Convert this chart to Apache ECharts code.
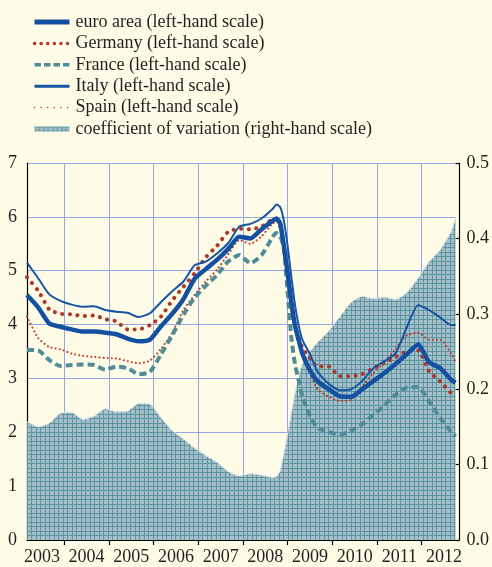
<!DOCTYPE html>
<html>
<head>
<meta charset="utf-8">
<script src="https://cdn.jsdelivr.net/npm/echarts@6/dist/echarts.min.js"></script>
<style>
  html, body { margin: 0; padding: 0; background: #fefce6; }
  #chart { width: 492px; height: 567px; }
</style>
</head>
<body>
<div id="chart"></div>
<script>
// decimal years of the readings
var dates = [
    2003.167, 2003.417, 2003.667, 2003.917,
    2004.167, 2004.417, 2004.667, 2004.917,
    2005.167, 2005.417, 2005.667, 2005.917,
    2006.167, 2006.417, 2006.667, 2006.917,
    2007.167, 2007.417, 2007.667, 2007.917,
    2008.167, 2008.417, 2008.667, 2008.75, 2008.833, 2008.917,
    2009.0, 2009.083, 2009.167, 2009.25, 2009.333, 2009.5, 2009.667, 2009.917,
    2010.167, 2010.417, 2010.667, 2010.917,
    2011.167, 2011.417, 2011.667, 2011.917,
    2012.167, 2012.417, 2012.667, 2012.756
];
var euroArea = [
    4.55, 4.32, 4.02, 3.96,
    3.91, 3.87, 3.87, 3.85,
    3.82, 3.74, 3.69, 3.72,
    3.97, 4.20, 4.47, 4.85,
    5.03, 5.20, 5.40, 5.63,
    5.60, 5.77, 5.93, 5.97, 5.88, 5.45,
    4.95, 4.42, 3.97, 3.70, 3.45, 3.15, 2.95, 2.80,
    2.67, 2.66, 2.80, 2.95,
    3.10, 3.27, 3.45, 3.63,
    3.30, 3.19, 2.97, 2.92
];
var germany = [
    4.88, 4.63, 4.28, 4.20,
    4.19, 4.16, 4.17, 4.10,
    4.06, 3.91, 3.91, 3.99,
    4.15, 4.45, 4.70, 4.95,
    5.25, 5.46, 5.72, 5.78,
    5.77, 5.82, 5.95, 5.95, 5.82, 5.45,
    4.90, 4.35, 3.95, 3.75, 3.57, 3.38, 3.22, 3.22,
    3.04, 3.04, 3.08, 3.19,
    3.29, 3.40, 3.50, 3.52,
    3.13, 2.94, 2.72, 2.66
];
var france = [
    3.53, 3.52, 3.34, 3.23,
    3.25, 3.26, 3.25, 3.16,
    3.22, 3.19, 3.08, 3.12,
    3.45, 3.80, 4.18, 4.50,
    4.72, 4.92, 5.17, 5.29,
    5.14, 5.29, 5.63, 5.70, 5.65, 5.40,
    4.60, 3.75, 3.25, 2.95, 2.66, 2.30, 2.08, 2.01,
    1.95, 2.03, 2.15, 2.32,
    2.50, 2.70, 2.83, 2.84,
    2.57, 2.26, 2.00, 1.92
];
var italy = [
    5.15, 4.86, 4.56, 4.44,
    4.37, 4.33, 4.34, 4.27,
    4.24, 4.22, 4.14, 4.21,
    4.42, 4.62, 4.80, 5.10,
    5.17, 5.32, 5.51, 5.82,
    5.87, 5.97, 6.15, 6.23, 6.18, 5.92,
    5.45, 4.88, 4.35, 3.97, 3.71, 3.45, 3.13, 2.90,
    2.78, 2.80, 2.95, 3.19,
    3.32, 3.47, 3.95, 4.36,
    4.27, 4.13, 3.99, 3.99
];
var spain = [
    4.15, 3.75, 3.58, 3.54,
    3.46, 3.42, 3.40, 3.38,
    3.37, 3.32, 3.28, 3.33,
    3.55, 3.85, 4.27, 4.55,
    4.80, 5.02, 5.30, 5.57,
    5.50, 5.64, 5.88, 5.91, 5.80, 5.40,
    4.75, 4.25, 3.88, 3.63, 3.52, 3.12, 2.80, 2.66,
    2.58, 2.60, 2.85, 3.10,
    3.30, 3.55, 3.80, 3.85,
    3.72, 3.72, 3.45, 3.30
];
var coefVariation = [
    0.157, 0.150, 0.155, 0.168,
    0.169, 0.160, 0.164, 0.174,
    0.170, 0.171, 0.181, 0.180,
    0.162, 0.145, 0.134, 0.122,
    0.112, 0.103, 0.091, 0.085,
    0.088, 0.086, 0.083, 0.084, 0.092, 0.115,
    0.141, 0.168, 0.195, 0.218, 0.234, 0.250, 0.262, 0.277,
    0.296, 0.315, 0.323, 0.320,
    0.322, 0.319, 0.328, 0.347,
    0.369, 0.385, 0.410, 0.427
];
var yearTicks = [2004, 2005, 2006, 2007, 2008, 2009, 2010, 2011, 2012];
var yearLabels = [2003.5, 2004.5, 2005.5, 2006.5, 2007.5, 2008.5, 2009.5, 2010.5, 2011.5, 2012.5];
var names = [
    'euro area (left-hand scale)',
    'Germany (left-hand scale)',
    'France (left-hand scale)',
    'Italy (left-hand scale)',
    'Spain (left-hand scale)',
    'coefficient of variation (right-hand scale)'
];

function pairs(arr) {
    return dates.map(function (d, i) { return [d, arr[i]]; });
}

// hatched grid fill for the area
var tile = document.createElement('canvas');
tile.width = 9;
tile.height = 9;
var ctx = tile.getContext('2d');
ctx.fillStyle = '#a6bec7';
ctx.fillRect(0, 0, 9, 9);
ctx.fillStyle = '#5b96a2';
ctx.fillRect(0, 0, 9, 1);
ctx.fillRect(0, 4, 9, 1);
ctx.fillRect(0, 0, 1, 9);
ctx.fillRect(4, 0, 1, 9);

var serif = 'Liberation Serif';
var chart = echarts.init(document.getElementById('chart'));

option = {
    animation: false,
    backgroundColor: '#fefce6',
    textStyle: { fontFamily: serif },
    legend: {
        orient: 'vertical',
        left: 27,
        top: 8,
        itemWidth: 35,
        itemHeight: 5,
        itemGap: 3.4,
        selectedMode: false,
        itemStyle: { opacity: 0 },
        textStyle: {
            fontFamily: serif,
            fontSize: 18,
            lineHeight: 18,
            color: '#231f20',
            padding: [0, 0, 0, 1]
        },
        data: [
            { name: names[0], lineStyle: { width: 5 } },
            { name: names[1], lineStyle: { width: 3.5, type: [0.1, 6.5], cap: 'round' } },
            { name: names[2], lineStyle: { width: 3.5, type: [6.5, 3] } },
            { name: names[3], lineStyle: { width: 3 } },
            { name: names[4], lineStyle: { width: 1.5, type: [0.1, 6.5], cap: 'round' } },
            { name: names[5], icon: 'rect', itemStyle: { color: { image: tile, repeat: 'repeat' }, opacity: 1 } }
        ]
    },
    grid: {
        left: 27,
        right: 33.5,
        top: 163,
        bottom: 27
    },
    xAxis: {
        type: 'value',
        min: 2003.167,
        max: 2012.756,
        offset: 2,
        axisLine: { lineStyle: { color: '#000', width: 1.2 } },
        axisTick: {
            customValues: yearTicks,
            length: 5,
            lineStyle: { color: '#000', width: 1.2 }
        },
        axisLabel: {
            customValues: yearLabels,
            margin: 6,
            fontSize: 18,
            fontFamily: serif,
            color: '#231f20',
            formatter: function (v) { return Math.floor(v); }
        },
        splitLine: { show: true, lineStyle: { color: '#97a5e4', width: 1 } }
    },
    yAxis: [
        {
            type: 'value',
            min: 0,
            max: 7,
            interval: 1,
            axisLine: { show: true, lineStyle: { color: '#000', width: 1.2 } },
            axisTick: { show: false },
            axisLabel: { margin: 10, fontSize: 18, fontFamily: serif, color: '#231f20' },
            splitLine: { lineStyle: { color: '#97a5e4', width: 1 } }
        },
        {
            type: 'value',
            min: 0,
            max: 0.5,
            interval: 0.1,
            offset: 4,
            axisLine: { show: true, lineStyle: { color: '#000', width: 1.2 } },
            axisTick: { show: true, inside: true, length: 4, lineStyle: { color: '#000', width: 1.2 } },
            axisLabel: {
                margin: 7,
                fontSize: 18,
                fontFamily: serif,
                color: '#231f20',
                formatter: function (v) { return v.toFixed(1); }
            },
            splitLine: { show: false }
        }
    ],
    series: [
        {
            name: names[5],
            type: 'line',
            yAxisIndex: 1,
            smooth: 0.2,
            symbol: 'none',
            lineStyle: { color: '#d6e2e6', width: 1 },
            itemStyle: { color: '#86a9b4' },
            areaStyle: { color: { image: tile, repeat: 'repeat' }, opacity: 1 },
            data: pairs(coefVariation)
        },
        {
            name: names[4],
            type: 'line',
            smooth: 0.2,
            symbol: 'none',
            lineStyle: { color: '#c0392b', width: 2, type: [0.1, 4], cap: 'round' },
            itemStyle: { color: '#c0392b' },
            data: pairs(spain)
        },
        {
            name: names[2],
            type: 'line',
            smooth: 0.2,
            symbol: 'none',
            lineStyle: { color: '#4f8b99', width: 4, type: [7, 4] },
            itemStyle: { color: '#4f8b99' },
            data: pairs(france)
        },
        {
            name: names[1],
            type: 'line',
            smooth: 0.2,
            symbol: 'none',
            lineStyle: { color: '#ae372c', width: 4, type: [0.1, 7.5], cap: 'round' },
            itemStyle: { color: '#ae372c' },
            data: pairs(germany)
        },
        {
            name: names[3],
            type: 'line',
            smooth: 0.2,
            symbol: 'none',
            lineStyle: { color: '#1655a6', width: 2 },
            itemStyle: { color: '#1655a6' },
            data: pairs(italy)
        },
        {
            name: names[0],
            type: 'line',
            smooth: 0.2,
            symbol: 'none',
            lineStyle: { color: '#1450a2', width: 4.5 },
            itemStyle: { color: '#1450a2' },
            data: pairs(euroArea)
        }
    ]
};

chart.setOption(option);
</script>
</body>
</html>
